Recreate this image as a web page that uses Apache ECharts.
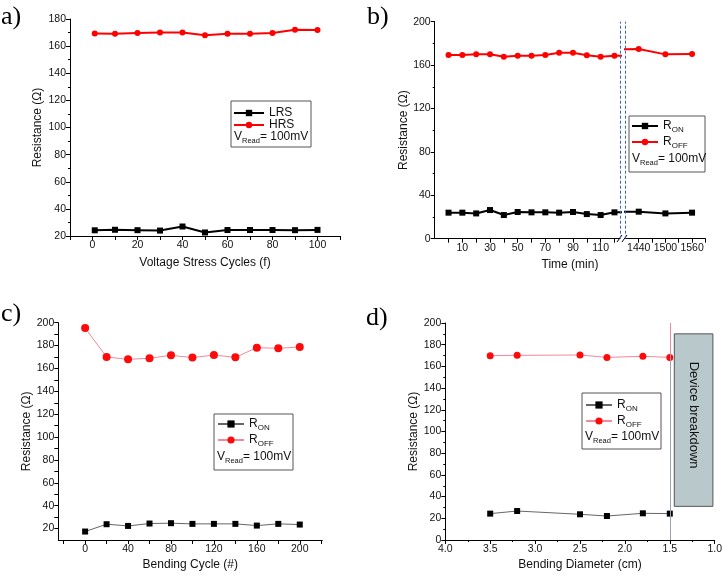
<!DOCTYPE html>
<html><head><meta charset="utf-8">
<script src="https://cdn.jsdelivr.net/npm/echarts@6/dist/echarts.min.js"></script>
<style>html,body{margin:0;padding:0;background:#fff}#c{width:723px;height:576px}</style>
</head><body><div id="c"></div>
<script>
// ---------- Panel a ----------
const cyclesA = [1, 10, 20, 30, 40, 50, 60, 70, 80, 90, 100];
const lrsA = [24.2, 24.6, 24.3, 24.0, 27.0, 22.6, 24.4, 24.4, 24.4, 24.3, 24.5];
const hrsA = [169.4, 169.1, 169.6, 170.0, 170.0, 168.1, 169.1, 169.1, 169.6, 172.1, 171.8];
const xLabelsA = [0, 20, 40, 60, 80, 100];
const xTicksA = [-10, 0, 10, 20, 30, 40, 50, 60, 70, 80, 90, 100, 110];

// ---------- Panel b ----------
const timeB = [0, 10, 20, 30, 40, 50, 60, 70, 80, 90, 100, 110, 120, 1440, 1500, 1560];
const ronB = [24.0, 24.0, 23.3, 26.4, 21.8, 24.6, 24.3, 24.3, 24.0, 24.6, 22.7, 21.8, 24.3, 24.9, 23.3, 24.0];
const roffB = [169.3, 169.3, 169.9, 169.9, 167.7, 168.6, 168.6, 169.3, 171.4, 171.4, 169.0, 167.7, 168.6, 174.8, 169.9, 170.2];
const xLabelsB1 = [10, 30, 50, 70, 90, 110];
const xTicksB1 = [0, 10, 20, 30, 40, 50, 60, 70, 80, 90, 100, 110, 120];
const xLabelsB2 = [1440, 1500, 1560];
const xTicksB2 = [1440, 1470, 1500, 1530, 1560, 1590];

// ---------- Panel c ----------
const cyclesC = [0, 20, 40, 60, 80, 100, 120, 140, 160, 180, 200];
const ronC = [17.4, 23.8, 22.3, 24.4, 24.7, 24.1, 24.1, 24.1, 22.6, 24.1, 23.5];
const roffC = [195.3, 170.0, 168.0, 168.9, 171.5, 169.5, 171.7, 169.7, 178.2, 177.6, 178.8];
const xLabelsC = [0, 40, 80, 120, 160, 200];
const xTicksC = [-20, 0, 20, 40, 60, 80, 100, 120, 140, 160, 180, 200, 220];
const yLabelsC = [20, 40, 60, 80, 100, 120, 140, 160, 180, 200];
const yTicksC = [20, 30, 40, 50, 60, 70, 80, 90, 100, 110, 120, 130, 140, 150, 160, 170, 180, 190, 200];

// ---------- Panel d ----------
const diamD = [3.5, 3.2, 2.5, 2.2, 1.8, 1.5];
const ronD = [24.3, 26.7, 23.7, 22.1, 24.6, 24.3];
const roffD = [169.9, 170.2, 170.5, 168.3, 169.3, 168.3];

const pair = (xs, ys) => xs.map((x, i) => [x, ys[i]]);

const FONT = "'Liberation Sans', Arial, sans-serif";
const plain = v => String(v);
const axisCommon = {
  axisLine: { show: true, onZero: false, lineStyle: { color: '#000', width: 1 } },
  axisTick: { show: true, length: 4, lineStyle: { color: '#000', width: 1 } },
  axisLabel: { color: '#111', fontSize: 10.5, fontFamily: FONT, margin: 4, formatter: plain },
  splitLine: { show: false },
  nameLocation: 'middle',
  nameTextStyle: { color: '#111', fontSize: 12, fontFamily: FONT }
};
function ax(o) {
  const r = Object.assign({}, axisCommon, o);
  r.axisLine = Object.assign({}, axisCommon.axisLine, o.axisLine || {});
  r.axisTick = Object.assign({}, axisCommon.axisTick, o.axisTick || {});
  r.axisLabel = Object.assign({}, axisCommon.axisLabel, o.axisLabel || {});
  return r;
}
const minor = { show: true, splitNumber: 2, length: 2, lineStyle: { color: '#000' } };

const subFmt = n => n.indexOf('R_ON') === 0 ? '{m|R}{s|ON}' : '{m|R}{s|OFF}';
const rich = {
  m: { fontSize: 12, lineHeight: 16, fontFamily: FONT, color: '#111' },
  s: { fontSize: 8, lineHeight: 8, verticalAlign: 'bottom', fontFamily: FONT, color: '#111' }
};
const richG = {
  m: { fontSize: 12, lineHeight: 16, fontFamily: FONT, fill: '#111' },
  s: { fontSize: 7.5, lineHeight: 8, verticalAlign: 'bottom', fontFamily: FONT, fill: '#111' }
};
function legendAt(left, top, names, iw, ih, useSub) {
  return {
    orient: 'vertical', left: left, top: top, data: names,
    itemWidth: iw, itemHeight: ih, itemGap: 0, padding: 0,
    selectedMode: false,
    formatter: useSub ? subFmt : (n => n),
    textStyle: useSub ? { fontSize: 12, fontFamily: FONT, color: '#111', lineHeight: 16, rich: rich }
                      : { fontSize: 12, fontFamily: FONT, color: '#111', lineHeight: 12 }
  };
}
function vread(x, y) {
  return { type: 'text', x: x, y: y, z: 5,
    style: { text: '{m|V}{s|Read}{m|= 100mV}', rich: richG, fill: '#111', fontSize: 12, fontFamily: FONT, verticalAlign: 'middle', align: 'left' } };
}
function box(x, y, w, h) {
  return { type: 'rect', shape: { x: x, y: y, width: w, height: h }, style: { fill: '#fff', stroke: '#555', lineWidth: 1 }, z: 1 };
}
function panelLabel(t, x, y) {
  return { type: 'text', x: x, y: y, style: { text: t, font: "26px 'Liberation Serif', 'Times New Roman', serif", fill: '#000' } };
}

const chart = echarts.init(document.getElementById('c'), null, { renderer: 'canvas' });
const option = {
  animation: false,
  backgroundColor: '#fff',
  grid: [
    { left: 70, top: 19, width: 270, height: 217, outerBoundsMode: 'none' },
    { left: 434.7, top: 21.7, width: 185.3, height: 217, outerBoundsMode: 'none' },
    { left: 625.4, top: 21.7, width: 80, height: 217, outerBoundsMode: 'none' },
    { left: 58.3, top: 322.7, width: 264, height: 217.3, outerBoundsMode: 'none' },
    { left: 445.3, top: 323, width: 269.4, height: 217, outerBoundsMode: 'none' }
  ],
  xAxis: [
    ax({ gridIndex: 0, type: 'value', min: -10, max: 110, name: 'Voltage Stress Cycles (f)', nameGap: 21,
         axisLabel: { customValues: xLabelsA }, axisTick: { customValues: xTicksA } }),
    ax({ gridIndex: 1, type: 'value', min: -10, max: 124,
         axisLabel: { customValues: xLabelsB1 }, axisTick: { customValues: xTicksB1 } }),
    ax({ gridIndex: 2, type: 'value', min: 1410, max: 1590,
         axisLabel: { customValues: xLabelsB2 }, axisTick: { customValues: xTicksB2 } }),
    ax({ gridIndex: 3, type: 'value', min: -25, max: 221, name: 'Bending Cycle (#)', nameGap: 19,
         axisLabel: { customValues: xLabelsC }, axisTick: { customValues: xTicksC } }),
    ax({ gridIndex: 4, type: 'value', min: 1.0, max: 4.0, interval: 0.5, inverse: true, name: 'Bending Diameter (cm)', nameGap: 19,
         axisLabel: { formatter: v => v.toFixed(1) }, minorTick: minor })
  ],
  yAxis: [
    ax({ gridIndex: 0, type: 'value', min: 20, max: 180, interval: 20, name: 'Resistance (Ω)', nameGap: 26, minorTick: minor }),
    ax({ gridIndex: 1, type: 'value', min: 0, max: 200, interval: 40, name: 'Resistance (Ω)', nameGap: 25, minorTick: minor }),
    { gridIndex: 2, type: 'value', min: 0, max: 200, show: false },
    ax({ gridIndex: 3, type: 'value', min: 10, max: 200, name: 'Resistance (Ω)', nameGap: 25,
         axisLabel: { customValues: yLabelsC }, axisTick: { customValues: yTicksC } }),
    ax({ gridIndex: 4, type: 'value', min: 0, max: 200, interval: 20, name: 'Resistance (Ω)', nameGap: 25, minorTick: minor })
  ],
  legend: [
    legendAt(233, 107, ['LRS', 'HRS'], 30, 8, false),
    legendAt(631, 118, ['R_ON_b', 'R_OFF_b'], 26, 8, true),
    legendAt(217, 416, ['R_ON_c', 'R_OFF_c'], 26, 9, true),
    legendAt(585, 397, ['R_ON_d', 'R_OFF_d'], 26, 9, true)
  ],
  series: [
    // a
    { type: 'line', name: 'LRS', xAxisIndex: 0, yAxisIndex: 0, data: pair(cyclesA, lrsA),
      symbol: 'rect', symbolSize: 6, lineStyle: { color: '#000', width: 2 }, itemStyle: { color: '#000' } },
    { type: 'line', name: 'HRS', xAxisIndex: 0, yAxisIndex: 0, data: pair(cyclesA, hrsA),
      symbol: 'circle', symbolSize: 6, lineStyle: { color: '#ff0000', width: 2 }, itemStyle: { color: '#ff0000' } },
    // b left
    { type: 'line', name: 'R_ON_b', xAxisIndex: 1, yAxisIndex: 1, data: pair(timeB, ronB), clip: true,
      symbol: 'rect', symbolSize: 6, lineStyle: { color: '#000', width: 2 }, itemStyle: { color: '#000' },
      markLine: { silent: true, symbol: ['none', 'none'], label: { show: false },
        lineStyle: { color: '#3a5fd0', type: [3, 2], width: 1 }, data: [{ xAxis: 124 }] } },
    { type: 'line', name: 'R_OFF_b', xAxisIndex: 1, yAxisIndex: 1, data: pair(timeB, roffB), clip: true,
      symbol: 'circle', symbolSize: 6, lineStyle: { color: '#ff0000', width: 2 }, itemStyle: { color: '#ff0000' } },
    // b right
    { type: 'line', name: 'R_ON_b', xAxisIndex: 2, yAxisIndex: 2, data: pair(timeB, ronB), clip: true,
      symbol: 'rect', symbolSize: 6, lineStyle: { color: '#000', width: 2 }, itemStyle: { color: '#000' },
      markLine: { silent: true, symbol: ['none', 'none'], label: { show: false },
        lineStyle: { color: '#3a5fd0', type: [3, 2], width: 1 }, data: [{ xAxis: 1410 }] } },
    { type: 'line', name: 'R_OFF_b', xAxisIndex: 2, yAxisIndex: 2, data: pair(timeB, roffB), clip: true,
      symbol: 'circle', symbolSize: 6, lineStyle: { color: '#ff0000', width: 2 }, itemStyle: { color: '#ff0000' } },
    // c
    { type: 'line', name: 'R_ON_c', xAxisIndex: 3, yAxisIndex: 3, data: pair(cyclesC, ronC),
      symbol: 'rect', symbolSize: 6, lineStyle: { color: '#666', width: 1 }, itemStyle: { color: '#000' } },
    { type: 'line', name: 'R_OFF_c', xAxisIndex: 3, yAxisIndex: 3, data: pair(cyclesC, roffC),
      symbol: 'circle', symbolSize: 8, lineStyle: { color: '#f3899a', width: 1 }, itemStyle: { color: '#ff0a0a' } },
    // d
    { type: 'line', name: 'R_ON_d', xAxisIndex: 4, yAxisIndex: 4, data: pair(diamD, ronD),
      symbol: 'rect', symbolSize: 6, lineStyle: { color: '#666', width: 1 }, itemStyle: { color: '#000' },
      markLine: { silent: true, symbol: ['none', 'none'], label: { show: false },
        lineStyle: { color: '#9aa2b4', type: 'solid', width: 1 },
        data: [[{ coord: [1.5, 0] }, { coord: [1.5, 168.3] }]] },
      markArea: { silent: true,
        itemStyle: { color: '#b9c9cb', borderColor: '#555', borderWidth: 1, opacity: 1 },
        label: { show: true, position: 'inside', rotate: -90, color: '#111', fontSize: 13, fontFamily: FONT, offset: [-5, 0] },
        data: [[{ name: 'Device breakdown', xAxis: 1.45, yAxis: 190 }, { xAxis: 1.02, yAxis: 31 }]] } },
    { type: 'line', name: 'R_OFF_d', xAxisIndex: 4, yAxisIndex: 4, data: pair(diamD, roffD),
      symbol: 'circle', symbolSize: 7, lineStyle: { color: '#f3899a', width: 1 }, itemStyle: { color: '#ff0a0a' },
      markLine: { silent: true, symbol: ['none', 'none'], label: { show: false },
        lineStyle: { color: '#f3899a', type: 'solid', width: 1 },
        data: [[{ coord: [1.5, 168.3] }, { coord: [1.5, 200] }]] } }
  ],
  graphic: [
    box(231, 101, 80, 46),
    box(629, 116, 76, 56),
    box(214, 414, 79, 56),
    box(582, 393, 79, 56),
    vread(234, 137),
    vread(632, 159),
    vread(217, 457),
    vread(585, 437),
    panelLabel('a)', 1, 4),
    panelLabel('b)', 367, 4),
    panelLabel('c)', 1, 301),
    panelLabel('d)', 366, 305),
    { type: 'text', x: 570, y: 259, style: { text: 'Time (min)', align: 'center', fontSize: 12, fontFamily: FONT, fill: '#111' } },
    { type: 'polyline', shape: { points: [[617, 242], [622, 235]] }, style: { stroke: '#000', lineWidth: 1 } },
    { type: 'polyline', shape: { points: [[622, 242], [627, 235]] }, style: { stroke: '#000', lineWidth: 1 } }
  ]
};
chart.setOption(option);
</script>
</body></html>
